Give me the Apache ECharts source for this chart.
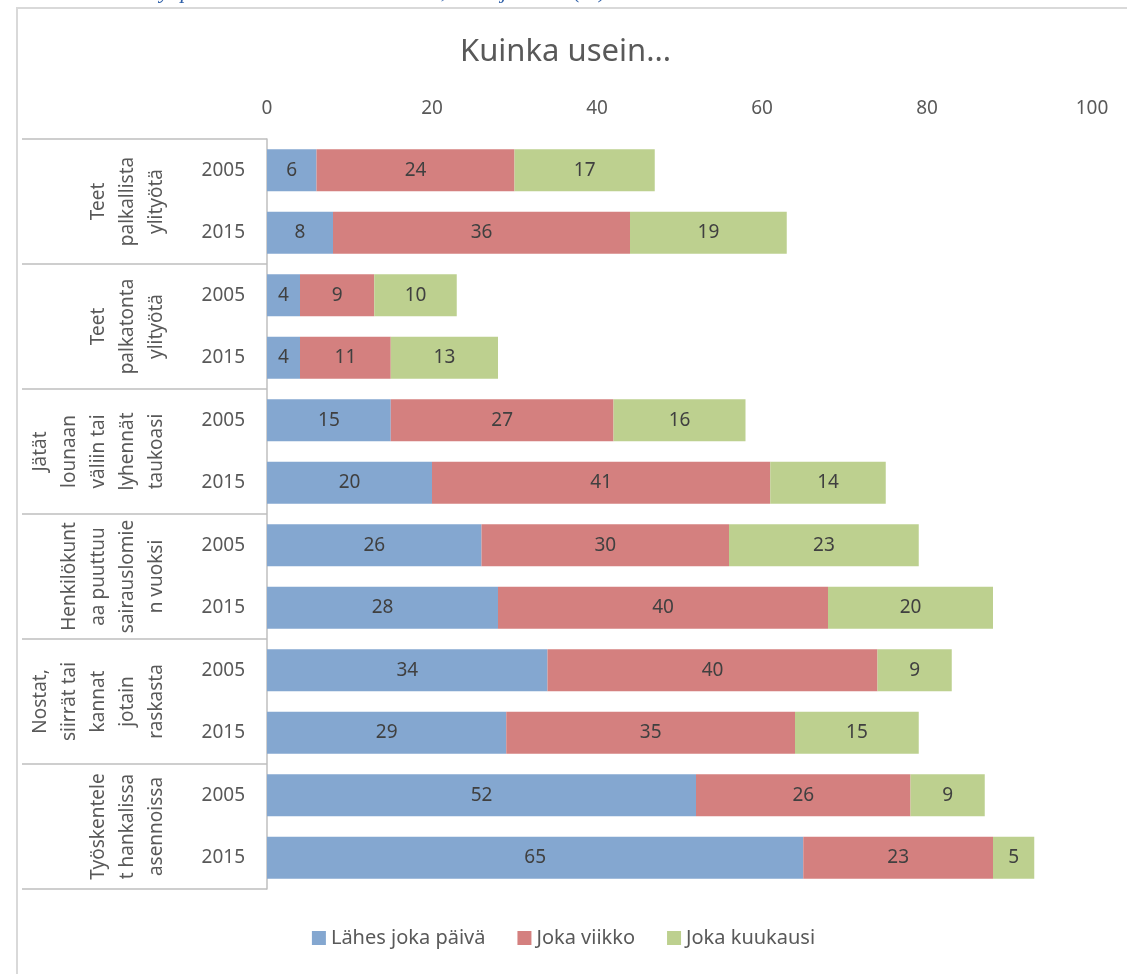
<!DOCTYPE html>
<html><head><meta charset="utf-8">
<script src="https://cdn.jsdelivr.net/npm/echarts@6/dist/echarts.min.js"></script>
<style>html,body{margin:0;padding:0;background:#fff}#c{width:1127px;height:974px}</style>
</head><body><div id="c"></div>
<script>
const years = ['2005','2015','2005','2015','2005','2015','2005','2015','2005','2015','2005','2015'];
const groups = ['Teet\npalkallista\nylityötä','Teet\npalkatonta\nylityötä','Jätät\nlounaan\nväliin tai\nlyhennät\ntaukoasi','Henkilökunt\naa puuttuu\nsairauslomie\nn vuoksi','Nostat,\nsiirrät tai\nkannat\njotain\nraskasta','Työskentele\nt hankalissa\nasennoissa'];
const seriesNames = ['Lähes joka päivä','Joka viikko','Joka kuukausi'];
const daily = [6,8,4,4,15,20,26,28,34,29,52,65];
const weekly = [24,36,9,11,27,41,30,40,40,35,26,23];
const monthly = [17,19,10,13,16,14,23,20,9,15,9,5];
const xTicks = [0,20,40,60,80,100];

const font = 'Noto Sans';
const txt = '#595959';
const colors = ['#84A7D0','#D4807F','#BDD08F'];
const chart = echarts.init(document.getElementById('c'));
const mk = (name, data, i) => ({
  name, type:'bar', stack:'s', data, yAxisIndex:0, barCategoryGap:'33%',
  itemStyle:{color:colors[i]},
  label:{show:true, position:'inside', color:'#404040', fontSize:19, fontFamily:font},
  emphasis:{disabled:true}
});
chart.setOption({
  animation:false,
  textStyle:{fontFamily:font},
  title:{text:'Kuinka usein...', left:455, top:32, textStyle:{fontSize:31, fontWeight:'normal', color:txt, fontFamily:font}},
  graphic:[
    {type:'rect', shape:{x:17,y:8,width:1130,height:1000}, style:{fill:'none', stroke:'#D9D9D9', lineWidth:2}, silent:true},
    {type:'text', left:40, top:-19, style:{text:'Taulukko 1: Työpaikat Suomen teollisuudessa, 2005 ja 2015 (%)', font:'italic 22px "Liberation Serif"', fill:'#2E5FA8'}, silent:true}
  ],
  legend:{bottom:21, left:'center', itemWidth:14, itemHeight:14, itemGap:32, icon:'rect',
    textStyle:{fontSize:20, color:txt, fontFamily:font}, data:seriesNames},
  grid:{left:267, right:35, top:139, bottom:85, containLabel:false},
  xAxis:{type:'value', position:'top', min:0, max:100, interval:20,
    axisLine:{show:false}, axisTick:{show:false}, splitLine:{show:false},
    axisLabel:{color:txt, fontSize:19, margin:21, fontFamily:font,
      formatter:v=>xTicks.includes(v)?String(v):''}},
  yAxis:[
    {type:'category', data:years, inverse:true, position:'left',
      axisLine:{show:false}, axisTick:{show:false},
      axisLabel:{color:txt, fontSize:19, margin:22, fontFamily:font}},
    {type:'category', data:groups, inverse:true, position:'left', offset:0,
      axisLine:{show:true, lineStyle:{color:'#BFBFBF', width:1.5}},
      axisTick:{show:true, length:245, lineStyle:{color:'#BFBFBF', width:1.5}},
      axisLabel:{color:txt, fontSize:19, margin:96, rotate:90, lineHeight:29, fontFamily:font, interval:0}}
  ],
  series:[mk(seriesNames[0],daily,0), mk(seriesNames[1],weekly,1), mk(seriesNames[2],monthly,2)]
});
</script></body></html>
